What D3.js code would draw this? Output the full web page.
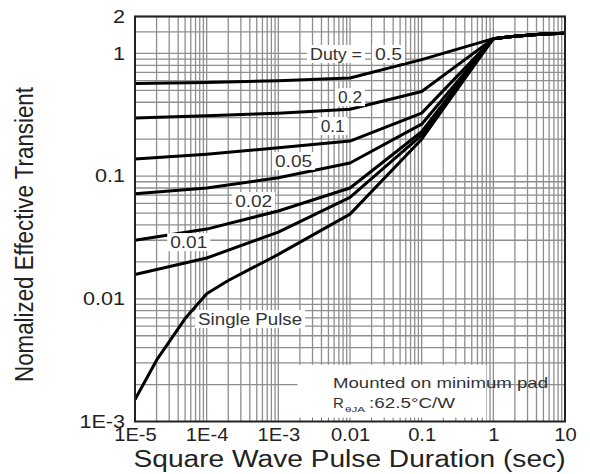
<!DOCTYPE html>
<html><head><meta charset="utf-8">
<script src="https://cdn.jsdelivr.net/npm/d3@7"></script>
<style>
html,body{margin:0;padding:0;background:#fff;}
svg{display:block;font-family:"Liberation Sans",Arial,sans-serif;}
</style></head>
<body><svg id="c" width="590" height="474"></svg>
<script>
// ---- data ----
const xTickValues = [1e-5, 1e-4, 1e-3, 0.01, 0.1, 1, 10];
const xTickLabels = ["1E-5", "1E-4", "1E-3", "0.01", "0.1", "1", "10"];
const yTickValues = [1e-3, 0.01, 0.1, 1, 2];
const yTickLabels = ["1E-3", "0.01", "0.1", "1", "2"];

const tDuty = [1e-5, 1e-4, 1e-3, 0.01, 0.1, 1, 2, 5, 10];
const duty05  = [0.57, 0.58, 0.60, 0.63, 0.89, 1.32, 1.38, 1.44, 1.46];
const duty02  = [0.297, 0.31, 0.326, 0.351, 0.49, 1.32, 1.38, 1.44, 1.46];
const duty01  = [0.138, 0.151, 0.17, 0.193, 0.326, 1.32, 1.38, 1.44, 1.46];
const duty005 = [0.0718, 0.080, 0.097, 0.128, 0.265, 1.32, 1.38, 1.44, 1.46];
const duty002 = [0.030, 0.037, 0.052, 0.080, 0.23, 1.32, 1.38, 1.44, 1.46];
const duty001 = [0.0158, 0.0215, 0.035, 0.067, 0.216, 1.32, 1.38, 1.44, 1.46];
const tSingle = [1e-5, 2e-5, 5e-5, 1e-4, 2e-4, 1e-3, 0.01, 0.1, 1, 2, 5, 10];
const single  = [0.00151, 0.00316, 0.0069, 0.011, 0.0141, 0.023, 0.049, 0.2, 1.32, 1.38, 1.44, 1.46];

const seriesNames = ["0.5", "0.2", "0.1", "0.05", "0.02", "0.01", "Single Pulse"];

// ---- layout ----
const svg = d3.select("#c");
const L = 135, R = 565, T = 16.5, B = 421.5;
const x = d3.scaleLog().domain([1e-5, 10]).range([L, R]);
const y = d3.scaleLog().domain([1e-3, 2]).range([B, T]);

// grid
const xMinor = [];
for (let e = -5; e < 1; e++) for (let m = 1; m <= 9; m++) xMinor.push(m * Math.pow(10, e));
const yMinor = [];
for (let e = -3; e < 1; e++) for (let m = 1; m <= 9; m++) yMinor.push(m * Math.pow(10, e));
yMinor.push(1.5);

const grid = svg.append("g").attr("stroke", "#8e8e8e").attr("stroke-width", 1.3);
grid.selectAll("line.v").data(xMinor.filter(d => d > 1e-5)).join("line")
  .attr("x1", d => x(d)).attr("x2", d => x(d)).attr("y1", T).attr("y2", B);
grid.selectAll("line.h").data(yMinor.filter(d => d > 1e-3)).join("line")
  .attr("y1", d => y(d)).attr("y2", d => y(d)).attr("x1", L).attr("x2", R);

// annotation box (hides grid)
svg.append("rect")
  .attr("x", x(1.85e-3)).attr("y", y(0.0029))
  .attr("width", x(0.8) - x(1.85e-3)).attr("height", B - y(0.0029))
  .attr("fill", "#fff");
// small bottom ticks inside box
svg.append("g").attr("stroke", "#777").attr("stroke-width", 1)
  .selectAll("line").data(xMinor.filter(d => d > 1.85e-3 && d < 0.8)).join("line")
  .attr("x1", d => x(d)).attr("x2", d => x(d)).attr("y1", B - 4).attr("y2", B);

// curve labels' white boxes (drawn under curves)
const labels = [
  {t: "Duty =", xv: 2.77e-3, yv: 0.99, w: 52},
  {t: seriesNames[0], xv: 2.23e-2, yv: 0.99, w: 27},
  {t: seriesNames[1], xv: 6.8e-3, yv: 0.44, w: 24},
  {t: seriesNames[2], xv: 3.9e-3, yv: 0.256, w: 24},
  {t: seriesNames[3], xv: 9.0e-4, yv: 0.133, w: 37},
  {t: seriesNames[4], xv: 2.5e-4, yv: 0.0627, w: 37},
  {t: seriesNames[5], xv: 3.1e-5, yv: 0.029, w: 37},
  {t: seriesNames[6], xv: 7.6e-5, yv: 0.00684, w: 104}
];
const lg = svg.append("g");
lg.selectAll("rect").data(labels).join("rect")
  .attr("x", d => x(d.xv) - 3).attr("y", d => y(d.yv) - 9)
  .attr("width", d => d.w + 6).attr("height", 18).attr("fill", "#fff");

// curves
const line = d3.line().x(d => x(d[0])).y(d => y(d[1])).curve(d3.curveLinear);
const dutySeries = [duty05, duty02, duty01, duty005, duty002, duty001];
const allSeries = dutySeries.map(v => tDuty.map((t, i) => [t, v[i]]))
  .concat([tSingle.map((t, i) => [t, single[i]])]);
svg.append("g").selectAll("path").data(allSeries).join("path")
  .attr("d", line).attr("fill", "none").attr("stroke", "#000")
  .attr("stroke-width", 3).attr("stroke-linejoin", "round");

lg.selectAll("text").data(labels).join("text")
  .attr("x", d => x(d.xv)).attr("y", d => y(d.yv) + 6)
  .attr("font-size", 16).attr("fill", "#333")
  .attr("textLength", d => d.w).attr("lengthAdjust", "spacingAndGlyphs")
  .text(d => d.t);
lg.raise();

// annotation text
const ann = svg.append("g").attr("fill", "#333");
ann.append("text").attr("x", x(5.8e-3)).attr("y", y(0.00206) + 5)
  .attr("font-size", 15).attr("textLength", 215).attr("lengthAdjust", "spacingAndGlyphs")
  .text("Mounted on minimum pad");
ann.append("text").attr("x", x(5.8e-3)).attr("y", y(0.00142) + 5)
  .attr("font-size", 15).text("R");
ann.append("text").attr("x", x(5.8e-3) + 12).attr("y", y(0.00142) + 9)
  .attr("font-size", 8).attr("textLength", 20).attr("lengthAdjust", "spacingAndGlyphs").text("θJA");
ann.append("text").attr("x", x(5.8e-3) + 36).attr("y", y(0.00142) + 5)
  .attr("font-size", 15).attr("textLength", 86).attr("lengthAdjust", "spacingAndGlyphs")
  .text(":62.5°C/W");

// frame
svg.append("rect").attr("x", L).attr("y", T).attr("width", R - L).attr("height", B - T)
  .attr("fill", "none").attr("stroke", "#222").attr("stroke-width", 2);

// axes
const xAxis = d3.axisBottom(x).tickValues(xTickValues)
  .tickFormat((d, i) => xTickLabels[i]).tickSize(0).tickPadding(7);
const gx = svg.append("g").attr("transform", `translate(0,${B})`).call(xAxis);
gx.select(".domain").remove();
gx.selectAll("text").attr("font-size", 18).attr("fill", "#222")
  .attr("font-family", "Liberation Sans, Arial, sans-serif")
  .each(function () { const w = this.getComputedTextLength(); d3.select(this).attr("textLength", w * 1.12).attr("lengthAdjust", "spacingAndGlyphs"); });

const yAxis = d3.axisLeft(y).tickValues(yTickValues)
  .tickFormat((d, i) => yTickLabels[i]).tickSize(0).tickPadding(10);
const gy = svg.append("g").attr("transform", `translate(${L},0)`).call(yAxis);
gy.select(".domain").remove();
gy.selectAll("text").attr("font-size", 18).attr("fill", "#222")
  .attr("font-family", "Liberation Sans, Arial, sans-serif")
  .each(function () { const w = this.getComputedTextLength(); d3.select(this).attr("textLength", w * 1.2).attr("lengthAdjust", "spacingAndGlyphs"); });

// titles
svg.append("text").attr("x", (L + R) / 2 - 0.5).attr("y", 467)
  .attr("text-anchor", "middle").attr("font-size", 23).attr("fill", "#222")
  .attr("textLength", 432).attr("lengthAdjust", "spacingAndGlyphs")
  .text("Square Wave Pulse Duration (sec)");
svg.append("text").attr("transform", "translate(33,234.5) rotate(-90)")
  .attr("text-anchor", "middle").attr("font-size", 26).attr("fill", "#222")
  .attr("textLength", 295).attr("lengthAdjust", "spacingAndGlyphs")
  .text("Nomalized Effective Transient");
</script></body></html>
